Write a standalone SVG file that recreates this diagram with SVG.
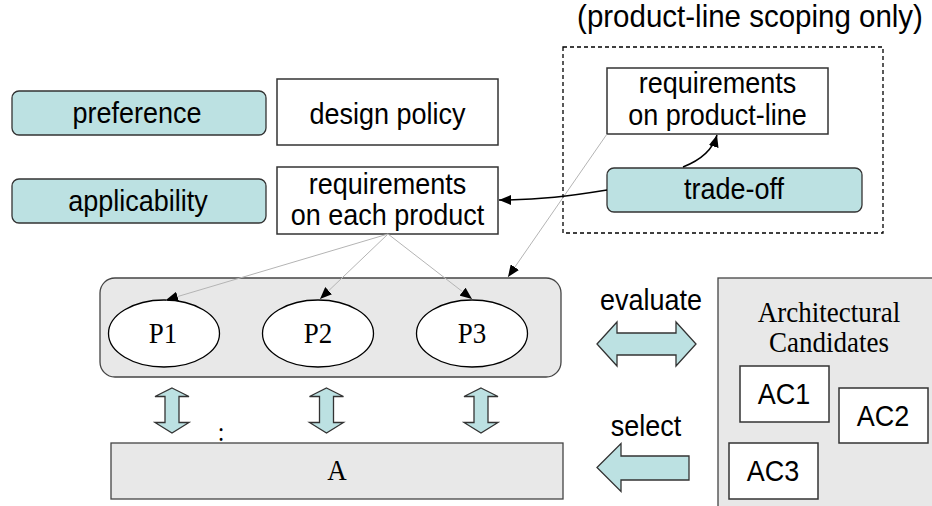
<svg xmlns="http://www.w3.org/2000/svg" width="932" height="506" viewBox="0 0 932 506">
<style>
.sans{font-family:"Liberation Sans",Arial,sans-serif;font-size:27px;fill:#000;text-anchor:middle}
.serif{font-family:"Liberation Serif","Times New Roman",serif;font-size:27px;fill:#000;text-anchor:middle}
.teal{fill:#BCE1E2;stroke:#333;stroke-width:1.3}
.box{fill:#fff;stroke:#333;stroke-width:1.5}
.gray{fill:#E8E8E8;stroke:#444;stroke-width:1.3}
.thin{fill:none;stroke:#B4B4B4;stroke-width:1}
.bold{fill:none;stroke:#000;stroke-width:1.5}
</style>
<defs>
<marker id="ah" markerWidth="13" markerHeight="10" refX="12" refY="5" orient="auto" markerUnits="userSpaceOnUse">
<path d="M0,0 L12,5 L0,10 Z" fill="#000"/>
</marker>
<path id="vdbl" d="M0,-22.5 L17,-14 L7,-14 L7,12 L17,12 L0,22.5 L-17,12 L-7,12 L-7,-14 L-17,-14 Z"/>
</defs>

<g id="preference"><rect class="teal" x="12" y="91" width="254" height="44" rx="7"/><text class="sans" transform="translate(137,123) scale(1,1.1)">preference</text></g>
<g id="applicability"><rect class="teal" x="12" y="179" width="254" height="44" rx="7"/><text class="sans" transform="translate(138,211) scale(1,1.1)">applicability</text></g>
<g id="design-policy"><rect class="box" x="277" y="79" width="221" height="66"/><text class="sans" transform="translate(387.5,124) scale(1,1.1)">design policy</text></g>
<g id="req-each"><rect class="box" x="277" y="167" width="221" height="67"/><text class="sans" transform="translate(387.5,194) scale(1,1.1)">requirements</text><text class="sans" transform="translate(387.5,225) scale(1,1.1)">on each product</text></g>

<g id="scope"><rect x="563" y="47" width="320" height="186" fill="none" stroke="#000" stroke-width="1.3" stroke-dasharray="4,3"/><text class="sans" style="font-size:29.5px" transform="translate(750,27) scale(1,1.05)">(product-line scoping only)</text></g>
<g id="req-line"><rect class="box" x="607" y="68" width="221" height="66"/><text class="sans" transform="translate(717.5,93) scale(1,1.1)">requirements</text><text class="sans" transform="translate(717.5,125) scale(1,1.1)">on product-line</text></g>
<g id="trade-off"><rect class="teal" x="607" y="168" width="255" height="44" rx="7"/><text class="sans" transform="translate(734,199) scale(1,1.1)">trade-off</text></g>

<g id="products"><rect class="gray" x="100" y="278" width="461" height="99" rx="15"/>
<ellipse cx="164" cy="333.5" rx="55.5" ry="33.5" fill="#fff" stroke="#000" stroke-width="1.3"/><text class="serif" transform="translate(163,343) scale(1,1.1)">P1</text>
<ellipse cx="318" cy="333.5" rx="55.5" ry="33.5" fill="#fff" stroke="#000" stroke-width="1.3"/><text class="serif" transform="translate(318,343) scale(1,1.1)">P2</text>
<ellipse cx="472" cy="333.5" rx="55.5" ry="33.5" fill="#fff" stroke="#000" stroke-width="1.3"/><text class="serif" transform="translate(472,343) scale(1,1.1)">P3</text>
</g>

<g id="arch-A"><rect class="gray" x="111" y="443" width="452" height="56"/><text class="serif" transform="translate(337,480) scale(1,1.1)">A</text></g>
<text class="serif" style="font-size:24px" transform="translate(221,441) scale(1,1.1)">:</text>

<g id="candidates"><rect class="gray" x="718" y="278" width="230" height="240"/>
<text class="serif" transform="translate(829,322) scale(1,1.1)">Architectural</text><text class="serif" transform="translate(829,352) scale(1,1.1)">Candidates</text>
<rect class="box" x="740" y="366" width="89" height="56"/><text class="sans" transform="translate(784,404) scale(1,1.1)">AC1</text>
<rect class="box" x="839" y="388" width="89" height="55"/><text class="sans" transform="translate(883,426) scale(1,1.1)">AC2</text>
<rect class="box" x="729" y="443" width="89" height="56"/><text class="sans" transform="translate(773,481) scale(1,1.1)">AC3</text>
</g>

<g id="connectors">
<line class="thin" x1="388" y1="234" x2="166" y2="300" marker-end="url(#ah)"/>
<line class="thin" x1="388" y1="234" x2="320" y2="299" marker-end="url(#ah)"/>
<line class="thin" x1="388" y1="234" x2="472" y2="299" marker-end="url(#ah)"/>
<line class="thin" x1="607" y1="134" x2="508" y2="277" marker-end="url(#ah)"/>
<path class="bold" d="M607,190 C570,196 540,200 499,200" marker-end="url(#ah)"/>
<path class="bold" d="M683,167 Q711,156 717,135" marker-end="url(#ah)"/>
<use href="#vdbl" x="172" y="410.5" class="teal"/>
<use href="#vdbl" x="326.5" y="410.5" class="teal"/>
<use href="#vdbl" x="481" y="410.5" class="teal"/>
<path class="teal" d="M597,344 L617,322 L617,333 L676,333 L676,322 L696,344 L676,366 L676,355 L617,355 L617,366 Z"/>
<path class="teal" d="M597,467.5 L621,443.5 L621,456 L689,456 L689,480 L621,480 L621,491.5 Z"/>
<text class="sans" transform="translate(651,310) scale(1,1.1)">evaluate</text>
<text class="sans" transform="translate(646,436) scale(1,1.1)">select</text>
</g>
</svg>
